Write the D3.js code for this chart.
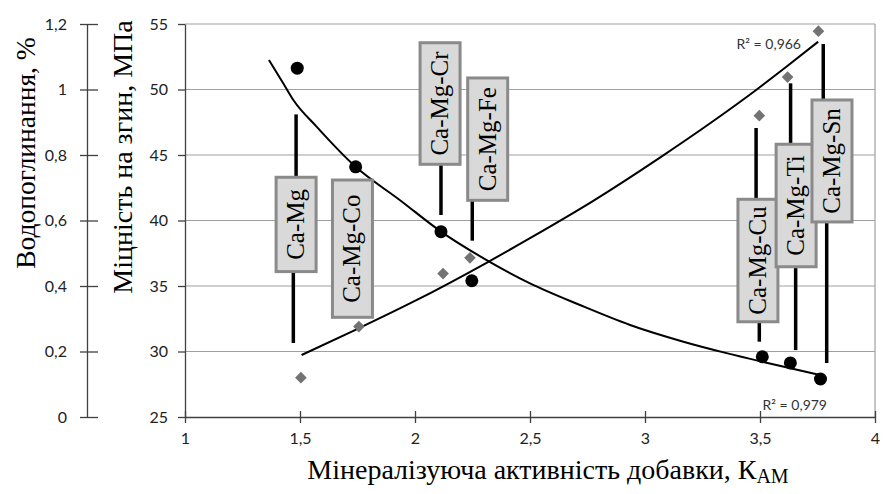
<!DOCTYPE html>
<html>
<head>
<meta charset="utf-8">
<script src="https://cdn.jsdelivr.net/npm/d3@7"></script>
<style>
  body { margin: 0; background: #fff; }
  svg { display: block; }
</style>
</head>
<body>
<div id="chart"></div>
<script>
const width = 889;
const height = 494;

// mineralising activity (x) for each additive
const waterX = [1.488, 1.742, 2.113, 2.247, 3.51, 3.632, 3.763];
const waterY = [1.065, 0.764, 0.566, 0.416, 0.184, 0.165, 0.116];
const strengthX = [1.504, 1.756, 2.122, 2.239, 3.497, 3.62, 3.754];
const strengthY = [28.0, 31.9, 35.95, 37.15, 48.0, 50.95, 54.45];

// trend lines
const waterTrendX = [1.365, 1.427, 1.471, 1.573, 1.742, 1.935, 2.113, 2.319, 2.5, 2.717, 2.935, 3.167, 3.355, 3.514, 3.761];
const waterTrendY = [1.09, 1.019, 0.968, 0.886, 0.764, 0.662, 0.566, 0.476, 0.408, 0.342, 0.281, 0.23, 0.195, 0.168, 0.128];
const strengthTrendX = [1.507, 1.753, 1.993, 2.319, 2.5, 2.775, 3.065, 3.486, 3.616, 3.753];
const strengthTrendY = [29.73, 31.75, 33.8, 36.85, 38.65, 41.5, 44.8, 50.0, 51.75, 53.65];

// additive labels (box centre x, box top / bottom in MPa)
const labels = ["Ca-Mg", "Ca-Mg-Co", "Ca-Mg-Cr", "Ca-Mg-Fe", "Ca-Mg-Cu", "Ca-Mg-Ti", "Ca-Mg-Sn"];
const labelX = [1.483, 1.728, 2.109, 2.316, 3.491, 3.657, 3.813];
const labelTop = [43.3, 43.09, 53.57, 50.88, 41.62, 45.82, 49.2];
const labelBottom = [36.1, 32.61, 44.29, 41.54, 32.27, 36.47, 39.89];

// leader lines (x, from, to in MPa)
const leaderX = [1.483, 1.471, 2.113, 2.249, 3.483, 3.497, 3.633, 3.655, 3.775, 3.79];
const leaderFrom = [48.1, 36.1, 44.29, 41.54, 47.06, 32.27, 50.47, 36.47, 53.47, 39.89];
const leaderTo = [43.3, 30.65, 40.42, 38.46, 41.62, 30.75, 45.82, 30.11, 49.2, 29.12];

const xTicks = [1, 1.5, 2, 2.5, 3, 3.5, 4];
const strengthTicks = [25, 30, 35, 40, 45, 50, 55];
const waterTicks = [0, 0.2, 0.4, 0.6, 0.8, 1, 1.2];
const r2Labels = ["R\u00B2 = 0,966", "R\u00B2 = 0,979"];

const comma = d => String(d).replace(".", ",");

const svg = d3.select("#chart").append("svg")
  .attr("width", width)
  .attr("height", height);

const x = d3.scaleLinear().domain([1, 4]).range([185, 875]);
const yS = d3.scaleLinear().domain([25, 55]).range([417, 24]);
const yW = d3.scaleLinear().domain([0, 1.2]).range([417, 24]);

const tickFont = "Lato, 'Open Sans', sans-serif";
const serif = "'Liberation Serif', 'DejaVu Serif', serif";

// gridlines
svg.append("g")
  .selectAll("line")
  .data(strengthTicks.slice(1))
  .join("line")
  .attr("x1", x(1)).attr("x2", x(4))
  .attr("y1", d => yS(d)).attr("y2", d => yS(d))
  .attr("stroke", "#a0a0a0").attr("stroke-width", 1.2);

svg.append("line")
  .attr("x1", x(4)).attr("x2", x(4))
  .attr("y1", yS(55)).attr("y2", yS(25))
  .attr("stroke", "#a0a0a0").attr("stroke-width", 1.2);

// bottom axis
const xAxis = svg.append("g")
  .attr("transform", `translate(0,${yS(25)})`)
  .call(d3.axisBottom(x).tickValues(xTicks).tickFormat(comma).tickSizeOuter(0));
xAxis.selectAll(".tick line").attr("y1", -6).attr("y2", 6);
xAxis.selectAll(".tick text").attr("y", 16);

// strength axis
const sAxis = svg.append("g")
  .attr("transform", `translate(${x(1)},0)`)
  .call(d3.axisLeft(yS).tickValues(strengthTicks).tickSize(7).tickPadding(10).tickSizeOuter(0));

// water absorption axis (ticks cross the line)
const wAxis = svg.append("g")
  .attr("transform", "translate(87,0)")
  .call(d3.axisLeft(yW).tickValues(waterTicks).tickFormat(comma).tickSize(7).tickPadding(13).tickSizeOuter(0));
wAxis.selectAll(".tick line").attr("x1", 11).attr("x2", -7);

[xAxis, sAxis, wAxis].forEach(g => {
  g.select(".domain").attr("stroke", "#404040").attr("stroke-width", 1.3);
  g.selectAll(".tick line").attr("stroke", "#404040").attr("stroke-width", 1.3);
  g.selectAll(".tick text")
    .attr("font-family", tickFont)
    .attr("font-size", 16)
    .attr("fill", "#222");
});

// trend lines
const line = d3.line().curve(d3.curveMonotoneX);

svg.append("path")
  .attr("d", line(waterTrendX.map((d, i) => [x(d), yW(waterTrendY[i])])))
  .attr("fill", "none").attr("stroke", "#000").attr("stroke-width", 2);

svg.append("path")
  .attr("d", line(strengthTrendX.map((d, i) => [x(d), yS(strengthTrendY[i])])))
  .attr("fill", "none").attr("stroke", "#000").attr("stroke-width", 2);

// leader lines
svg.append("g")
  .selectAll("line")
  .data(leaderX)
  .join("line")
  .attr("x1", d => x(d)).attr("x2", d => x(d))
  .attr("y1", (d, i) => yS(leaderFrom[i]))
  .attr("y2", (d, i) => yS(leaderTo[i]))
  .attr("stroke", "#000").attr("stroke-width", 3.5);

// label boxes
const boxW = 40;
const boxes = svg.append("g")
  .selectAll("g")
  .data(labels)
  .join("g");

boxes.append("rect")
  .attr("x", (d, i) => x(labelX[i]) - boxW / 2)
  .attr("y", (d, i) => yS(labelTop[i]))
  .attr("width", boxW)
  .attr("height", (d, i) => yS(labelBottom[i]) - yS(labelTop[i]))
  .attr("fill", "#d9d9d9")
  .attr("stroke", "#8a8a8a")
  .attr("stroke-width", 3);

boxes.append("text")
  .attr("transform", (d, i) => {
    const cx = x(labelX[i]);
    const cy = (yS(labelTop[i]) + yS(labelBottom[i])) / 2;
    return `translate(${cx + 8},${cy}) rotate(-90)`;
  })
  .attr("text-anchor", "middle")
  .attr("font-family", serif)
  .attr("font-size", 25)
  .attr("fill", "#000")
  .text(d => d);

// points
svg.append("g")
  .selectAll("path")
  .data(strengthX)
  .join("path")
  .attr("d", d3.symbol(d3.symbolSquare, 68))
  .attr("transform", (d, i) => `translate(${x(d)},${yS(strengthY[i])}) rotate(45)`)
  .attr("fill", "#737373");

svg.append("g")
  .selectAll("circle")
  .data(waterX)
  .join("circle")
  .attr("cx", d => x(d))
  .attr("cy", (d, i) => yW(waterY[i]))
  .attr("r", 6.5)
  .attr("fill", "#000");

// R² labels
svg.append("text")
  .attr("x", 801).attr("y", 49)
  .attr("text-anchor", "end")
  .attr("font-family", tickFont).attr("font-size", 14).attr("fill", "#333")
  .text(r2Labels[0]);

svg.append("text")
  .attr("x", 827).attr("y", 410)
  .attr("text-anchor", "end")
  .attr("font-family", tickFont).attr("font-size", 14).attr("fill", "#333")
  .text(r2Labels[1]);

// axis titles
svg.append("text")
  .attr("transform", "translate(35,153) rotate(-90)")
  .attr("text-anchor", "middle")
  .attr("font-family", serif).attr("font-size", 27.5)
  .text("Водопоглинання, %");

svg.append("text")
  .attr("transform", "translate(132,157) rotate(-90)")
  .attr("text-anchor", "middle")
  .attr("font-family", serif).attr("font-size", 28)
  .text("Міцність на згин, МПа");

const xTitle = svg.append("text")
  .attr("x", 548).attr("y", 479)
  .attr("text-anchor", "middle")
  .attr("font-family", serif).attr("font-size", 28);
xTitle.append("tspan").text("Мінералізуюча активність добавки, К");
xTitle.append("tspan").attr("font-size", 20).attr("dy", 4).text("АМ");
</script>
</body>
</html>
